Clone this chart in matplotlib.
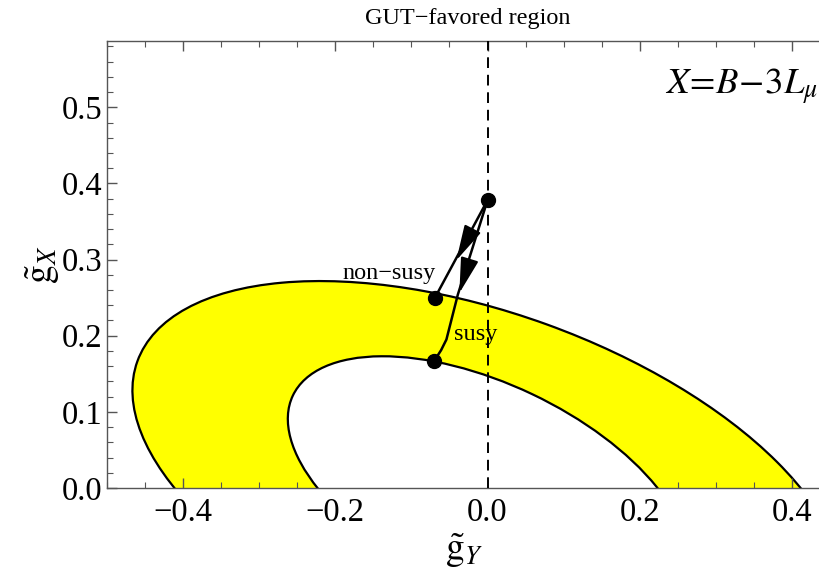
import matplotlib
matplotlib.use("Agg")
import matplotlib.pyplot as plt
from matplotlib.patches import Ellipse
from matplotlib.ticker import MultipleLocator

plt.rcParams['font.family'] = ['Liberation Serif', 'DejaVu Serif']
plt.rcParams['mathtext.fontset'] = 'stix'

# allowed band: between two ellipses centred on the origin
# (full width, full height, tilt in degrees)
outer_ell = [0.978, 0.457, -19.9]
inner_ell = [0.566, 0.273, -25.4]

# running start point and end points
start_pt = (0.0, 0.378)
nonsusy_pt = (-0.069, 0.250)
susy_pt = (-0.070, 0.167)

# path of the susy running (bends slightly near the end)
susy_x = [0.0, -0.039, -0.054, -0.061, -0.070]
susy_y = [0.378, 0.254, 0.195, 0.181, 0.167]
nonsusy_x = [0.0, -0.069]
nonsusy_y = [0.378, 0.250]

# where the arrow heads sit (tip)
head_tips = [(-0.041, 0.299), (-0.037, 0.256)]
head_from = [(0.0, 0.378), (0.0, 0.378)]

fig = plt.figure(figsize=(8.2, 5.77), dpi=100)
ax = fig.add_axes([0.1293, 0.1542, 0.8720, 0.7747])

ax.add_patch(Ellipse((0, 0), outer_ell[0], outer_ell[1], angle=outer_ell[2],
                     facecolor='#ffff00', edgecolor='black', lw=1.6, zorder=1))
ax.add_patch(Ellipse((0, 0), inner_ell[0], inner_ell[1], angle=inner_ell[2],
                     facecolor='white', edgecolor='black', lw=1.6, zorder=2))

ax.axvline(0, color='black', lw=1.4, ls=(0, (5.5, 3.5)), zorder=3)

ax.plot(nonsusy_x, nonsusy_y, color='black', lw=1.8, zorder=4)
ax.plot(susy_x, susy_y, color='black', lw=1.8, zorder=4)
for tip, frm in zip(head_tips, head_from):
    dx, dy = tip[0] - frm[0], tip[1] - frm[1]
    n = (dx * dx + dy * dy) ** 0.5
    back = (tip[0] - dx / n * 0.03, tip[1] - dy / n * 0.03)
    ax.annotate('', xy=tip, xytext=back,
                arrowprops=dict(arrowstyle='-|>,head_length=1.1,head_width=0.28',
                                color='black', lw=1.5, mutation_scale=20,
                                shrinkA=0, shrinkB=0), zorder=5)

ax.plot([start_pt[0], nonsusy_pt[0], susy_pt[0]],
        [start_pt[1], nonsusy_pt[1], susy_pt[1]],
        'o', color='black', ms=10, zorder=6)

ax.text(-0.068, 0.275, 'non\u2212susy', fontsize=17.5, ha='right', va='baseline', zorder=6)
ax.text(-0.044, 0.194, 'susy', fontsize=17.5, ha='left', va='baseline', zorder=6)
ax.text(0.434, 0.517, r'$X\!=\!B\!-\!3L_\mu$', fontsize=26.5, ha='right', va='baseline')

ax.set_xlim(-0.5, 0.437)
ax.set_ylim(0, 0.587)
ax.set_aspect('equal', adjustable='box')

ax.xaxis.set_major_locator(MultipleLocator(0.2))
ax.xaxis.set_minor_locator(MultipleLocator(0.05))
ax.yaxis.set_major_locator(MultipleLocator(0.1))
ax.yaxis.set_minor_locator(MultipleLocator(0.02))
ax.xaxis.set_major_formatter(lambda v, p: ('%.1f' % v).replace('-', '\u2212'))
ax.yaxis.set_major_formatter(lambda v, p: '%.1f' % v)
ax.tick_params(which='both', direction='in', top=True, right=False,
               color='#555555', labelsize=23.5)
ax.tick_params(axis='y', pad=3)
ax.tick_params(axis='x', pad=7)
ax.tick_params(which='major', length=7, width=1)
ax.tick_params(which='minor', length=4, width=0.8)
for s in ['left', 'bottom', 'top']:
    ax.spines[s].set_color('#555555')
    ax.spines[s].set_linewidth(1.0)
ax.spines['right'].set_visible(False)

ax.set_xlabel(r'$\tilde{\mathrm{g}}_Y$', fontsize=27, labelpad=2)
ax.set_ylabel(r'$\tilde{\mathrm{g}}_X$', fontsize=27, labelpad=0)
fig.text(0.571, 0.968, 'GUT\u2212favored region', fontsize=17.5, ha='center', va='center')

fig.savefig('out.png', dpi=100)
